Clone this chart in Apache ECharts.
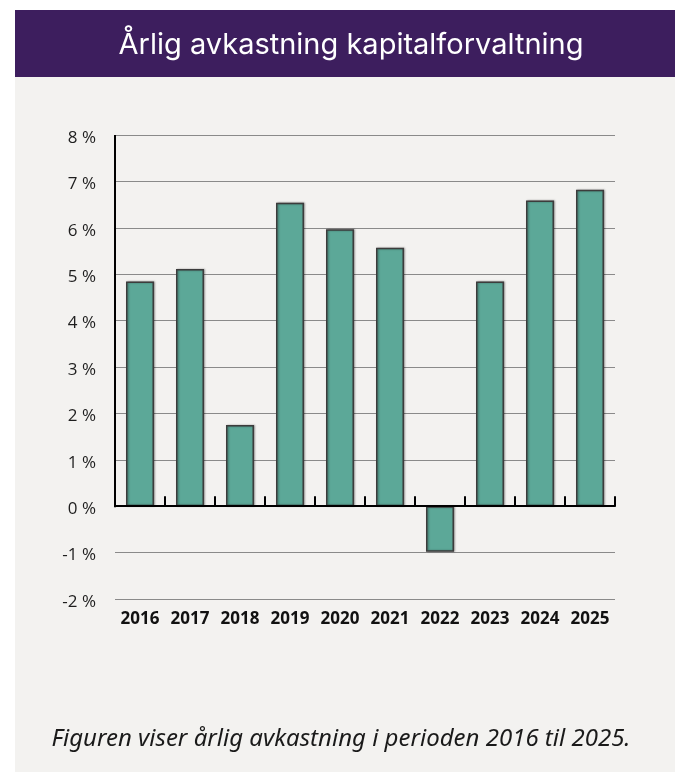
<!DOCTYPE html>
<html>
<head>
<meta charset="utf-8">
<script src="https://cdn.jsdelivr.net/npm/echarts@6/dist/echarts.min.js"></script>
<style>
  html, body { margin: 0; padding: 0; background: #ffffff; }
  #chart { width: 675px; height: 772px; }
</style>
</head>
<body>
<div id="chart"></div>
<script>
const titleText = 'Årlig avkastning kapitalforvaltning';
const captionText = 'Figuren viser årlig avkastning i perioden 2016 til 2025.';
const years = ['2016', '2017', '2018', '2019', '2020', '2021', '2022', '2023', '2024', '2025'];
const returns = [4.84, 5.11, 1.75, 6.54, 5.97, 5.57, -0.98, 4.84, 6.59, 6.82];
const yMin = -2, yMax = 8, yStep = 1;

const GRID_LEFT = 115, GRID_RIGHT = 60, GRID_TOP = 135, GRID_BOTTOM = 173;

const chart = echarts.init(document.getElementById('chart'), null, { renderer: 'canvas' });

const bgGraphics = [
  { id: 'bg', type: 'rect', z: -10, silent: true,
    shape: { x: 15, y: 77, width: 660, height: 695 }, style: { fill: '#f3f2f0' } },
  { id: 'band', type: 'rect', z: -10, silent: true,
    shape: { x: 15, y: 10, width: 660, height: 67 }, style: { fill: '#3d1e5e' } },
  { id: 'title', type: 'text', z: 10, silent: true,
    style: { text: titleText, x: 351, y: 45, fill: '#ffffff',
      font: '400 29px Inter, "Noto Sans", sans-serif', align: 'center', verticalAlign: 'middle' } },
  { id: 'caption', type: 'text', z: 10, silent: true,
    style: { text: captionText, x: 341, y: 739, fill: '#1a1a1a',
      font: 'italic 400 24px "Noto Sans", sans-serif', align: 'center', verticalAlign: 'middle' } }
];

chart.setOption({
  animation: false,
  backgroundColor: 'transparent',
  graphic: bgGraphics,
  grid: { left: GRID_LEFT, right: GRID_RIGHT, top: GRID_TOP, bottom: GRID_BOTTOM, containLabel: false },
  xAxis: [
    {
      type: 'category', data: years, boundaryGap: true,
      axisLine: { show: true, onZero: true, lineStyle: { color: '#000', width: 2 } },
      axisTick: { show: true, inside: true, length: 10, interval: 0, alignWithLabel: false, lineStyle: { color: '#000', width: 2 } },
      axisLabel: { show: false },
      splitLine: { show: false }, z: 5
    },
    {
      type: 'category', data: years, position: 'bottom', boundaryGap: true,
      axisLine: { show: false, onZero: false },
      axisTick: { show: false },
      axisLabel: { show: true, interval: 0, margin: 12, color: '#111', fontSize: 17, fontWeight: 'bold',
        fontFamily: '"Open Sans", sans-serif' },
      splitLine: { show: false }
    }
  ],
  yAxis: {
    type: 'value', min: yMin, max: yMax, interval: yStep,
    axisLine: { show: false },
    axisTick: { show: false },
    axisLabel: { margin: 19, formatter: '{t|{value} %}',
      rich: { t: { color: '#1e1e1e', fontSize: 17, fontFamily: '"Open Sans", sans-serif',
        padding: [6, 0, 0, 0] } } },
    splitLine: { show: true, lineStyle: { color: '#8a8a8a', width: 1 } }
  },
  series: [{
    type: 'bar', data: returns, barWidth: '56%', xAxisIndex: 0,
    itemStyle: { color: '#5ca898', borderColor: '#3c3c3c', borderWidth: 1.5,
      shadowColor: 'rgba(0,0,0,0.35)', shadowBlur: 2, shadowOffsetX: 1, shadowOffsetY: 0 },
    z: 3
  }]
});

// Vertical axis line only from 0 % up to the top of the scale
const y0 = chart.convertToPixel({ yAxisIndex: 0 }, 0);
const yTop = chart.convertToPixel({ yAxisIndex: 0 }, yMax);
chart.setOption({
  graphic: bgGraphics.concat([{
    id: 'yline', type: 'line', z: 20, silent: true,
    shape: { x1: GRID_LEFT, y1: yTop, x2: GRID_LEFT, y2: y0 + 1 },
    style: { stroke: '#000', lineWidth: 2 }
  }])
});
</script>
</body>
</html>
